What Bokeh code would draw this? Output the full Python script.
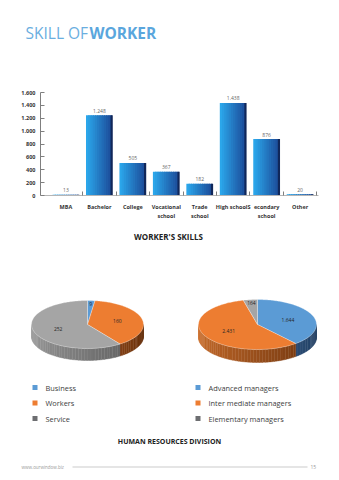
import numpy as np
from bokeh.plotting import figure
from bokeh.layouts import column
from bokeh.models import Range1d, FixedTicker, ColumnDataSource
from bokeh.transform import dodge
from bokeh.core.properties import value
from bokeh.embed import file_html
from bokeh.resources import INLINE

# ---------------- data ----------------
categories = ["MBA", "Bachelor", "College", "Vocational\nschool", "Trade\nschool",
              "High schoolS", "econdary\nschool", "Other"]
skills = [13, 1248, 505, 367, 182, 1438, 876, 20]
skill_labels = ["13", "1.248", "505", "367", "182", "1.438", "876", "20"]
y_ticks = [0, 200, 400, 600, 800, 1000, 1200, 1400, 1600]
y_tick_labels = ["0", "200", "400", "600", "800", "1.000", "1.200", "1.400", "1.600"]

pie1_names = ["Business", "Workers", "Service"]
pie1_values = [9, 160, 252]
pie1_labels = ["9", "160", "252"]

pie2_names = ["Advanced managers", "Inter mediate managers", "Elementary managers"]
pie2_values = [1644, 2431, 164]
pie2_labels = ["1.644", "2.431", "164"]

title_light = "SKILL OF"
title_bold = "WORKER"
bar_title = "WORKER'S SKILLS"
pie_title = "HUMAN RESOURCES DIVISION"
footer_url = "www.ourwindow.biz"
page_no = "15"

FONT = "Open Sans"
slice_top = ["#5b9bd5", "#ed7d31", "#a5a5a5"]
slice_side_dark = ["#1f3a5c", "#5e2a08", "#4e4e4e"]
slice_side_light = ["#4a7fb5", "#d0722f", "#a0a0a0"]
legend_colors = ["#5b9bd5", "#ed7d31", "#6d6e71"]


def hex2rgb(h):
    h = h.lstrip("#")
    return np.array([int(h[i:i + 2], 16) for i in (0, 2, 4)], dtype=float)


def mix(c1, c2, t):
    a, b = hex2rgb(c1), hex2rgb(c2)
    c = a + (b - a) * t
    return "#%02x%02x%02x" % tuple(int(round(v)) for v in c)


def page_fig(h, y0):
    f = figure(width=339, height=h, x_range=Range1d(0, 339), y_range=Range1d(y0 + h, y0),
               output_backend="svg", toolbar_location=None,
               x_axis_location=None, y_axis_location=None,
               min_border=0, min_border_left=0, min_border_right=0,
               min_border_top=0, min_border_bottom=0)
    f.grid.visible = False
    f.outline_line_color = None
    f.frame_align = False
    return f


# ---------------- header ----------------
ph = page_fig(60, 0)
ph.text(x=[25], y=[32], text=[title_light], text_font=value(FONT), text_font_size="15.5px",
        text_color="#6aaee0", text_baseline="middle", text_align="left")
ph.text(x=[89], y=[32], text=[title_bold], text_font=value(FONT), text_font_size="15.5px",
        text_font_style="bold", text_color="#5aa6dd", text_baseline="middle", text_align="left")

# ---------------- bar chart ----------------
xs = list(range(1, len(categories) + 1))
src = ColumnDataSource(dict(x=xs, top=skills, lab=skill_labels))
pb = figure(width=339, height=165, x_range=Range1d(0.24, 8.55), y_range=Range1d(0, 1600),
            output_backend="svg", toolbar_location=None,
            min_border_left=40, min_border_right=21, min_border_top=32, min_border_bottom=30)
pb.grid.visible = False
pb.outline_line_color = None
pb.frame_align = False

n_strips = 12
bw = 0.8
sw = bw / n_strips
for k in range(n_strips):
    off = -bw / 2 + sw * (k + 0.5)
    t = k / (n_strips - 1)
    col = mix("#2ba6ea", "#1c4a98", t) if k < n_strips - 1 else "#10275a"
    wk = sw * 1.6 if k < n_strips - 1 else sw
    offk = off + (wk - sw) / 2 if k < n_strips - 1 else off
    pb.vbar(x=dodge("x", offk, range=pb.x_range), top="top", width=wk, bottom=0,
            source=src, fill_color=col, line_color=None)

pb.text(x="x", y="top", text="lab", source=src, y_offset=-2.5, text_align="center",
        text_baseline="bottom", text_font=value(FONT), text_font_size="5px", text_color="#666666")

pb.yaxis.ticker = FixedTicker(ticks=y_ticks)
pb.yaxis.major_label_overrides = {v: s for v, s in zip(y_ticks, y_tick_labels)}
pb.yaxis.axis_line_color = "#7f7f7f"
pb.yaxis.major_tick_in = 4
pb.yaxis.major_tick_out = 0
pb.yaxis.major_tick_line_color = "#7f7f7f"
pb.yaxis.minor_tick_line_color = None
pb.yaxis.major_label_text_font = FONT
pb.yaxis.major_label_text_font_size = "5.5px"
pb.yaxis.major_label_text_font_style = "bold"
pb.yaxis.major_label_text_color = "#333333"
pb.yaxis.major_label_standoff = 5

pb.xaxis.ticker = FixedTicker(ticks=xs, minor_ticks=[x + 0.5 for x in xs])
pb.xaxis.major_label_overrides = {x: c for x, c in zip(xs, categories)}
pb.xaxis.axis_line_color = "#b5b5b5"
pb.xaxis.major_tick_in = 0
pb.xaxis.major_tick_out = 0
pb.xaxis.minor_tick_in = 4
pb.xaxis.minor_tick_out = 0
pb.xaxis.minor_tick_line_color = "#7f7f7f"
pb.xaxis.major_label_text_font = FONT
pb.xaxis.major_label_text_font_size = "5.5px"
pb.xaxis.major_label_text_font_style = "bold"
pb.xaxis.major_label_text_color = "#333333"
pb.xaxis.major_label_standoff = 7

# ---------------- pies, legend, footer ----------------
pp = page_fig(255, 225)
pp.text(x=[168], y=[236], text=[bar_title], text_font=value(FONT), text_font_size="8px",
        text_font_style="bold", text_color="#222222", text_align="center", text_baseline="middle")


def draw_pie(p, vals, labels, cx, cy, rx, ry, depth):
    vals = np.array(vals, dtype=float)
    fr = vals / vals.sum()
    ends = np.cumsum(fr) * 2 * np.pi
    starts = ends - fr * 2 * np.pi
    # sides
    sx, sy, sc = [], [], []
    for i, (s, e) in enumerate(zip(starts, ends)):
        a, b = max(s, np.pi / 2), min(e, 3 * np.pi / 2)
        if a >= b:
            continue
        nseg = max(int(np.ceil((b - a) / np.radians(3))), 1)
        edges = np.linspace(a, b, nseg + 1)
        for u, v in zip(edges[:-1], edges[1:]):
            th = np.linspace(u, v, 4)
            xx = cx + rx * np.sin(th)
            yy = cy - ry * np.cos(th)
            sx.append(list(xx) + list(xx[::-1]))
            sy.append(list(yy) + list((yy + depth)[::-1]))
            t = ((u + v) / 2 - np.pi / 2) / np.pi
            sc.append(mix(slice_side_dark[i], slice_side_light[i], t))
    p.patches(xs=sx, ys=sy, fill_color=sc, line_color=sc, line_width=0.4)
    # tops
    tx, ty = [], []
    for s, e in zip(starts, ends):
        th = np.linspace(s, e, max(int((e - s) / 0.02), 2))
        tx.append([cx] + list(cx + rx * np.sin(th)))
        ty.append([cy] + list(cy - ry * np.cos(th)))
    p.patches(xs=tx, ys=ty, fill_color=slice_top, line_color="#ffffff", line_width=0.3)
    # labels
    mids = (starts + ends) / 2
    f = np.where(fr < 0.05, 0.85, 0.55)
    lx = cx + rx * f * np.sin(mids)
    ly = cy - ry * f * np.cos(mids)
    p.text(x=list(lx), y=list(ly), text=labels, text_font=value(FONT), text_font_size="5px",
           text_color="#262626", text_align="center", text_baseline="middle")


draw_pie(pp, pie1_values, pie1_labels, 87, 324, 56, 24, 12)
draw_pie(pp, pie2_values, pie2_labels, 257, 324, 59, 25, 13)

ly = [387 + 15.5 * i for i in range(3)]
for names, sqx, txx in ((pie1_names, 34.5, 45), (pie2_names, 197.5, 208)):
    pp.rect(x=[sqx] * 3, y=ly, width=5, height=5, fill_color=legend_colors, line_color=None)
    pp.text(x=[txx] * 3, y=ly, text=names, text_font=value(FONT), text_font_size="7.4px",
            text_color="#404040", text_align="left", text_baseline="middle")

pp.text(x=[169], y=[441], text=[pie_title], text_font=value(FONT), text_font_size="7px",
        text_font_style="bold", text_color="#222222", text_align="center", text_baseline="middle")

pp.text(x=[21], y=[466], text=[footer_url], text_font=value(FONT), text_font_size="4.5px",
        text_color="#999999", text_align="left", text_baseline="middle")
pp.line(x=[72, 307], y=[466.5, 466.5], line_color="#aaaaaa", line_width=0.6)
pp.text(x=[310], y=[466], text=[page_no], text_font=value(FONT), text_font_size="5px",
        text_color="#999999", text_align="left", text_baseline="middle")

layout = column(ph, pb, pp, spacing=0)
open("out.html", "w").write(file_html(layout, INLINE))
